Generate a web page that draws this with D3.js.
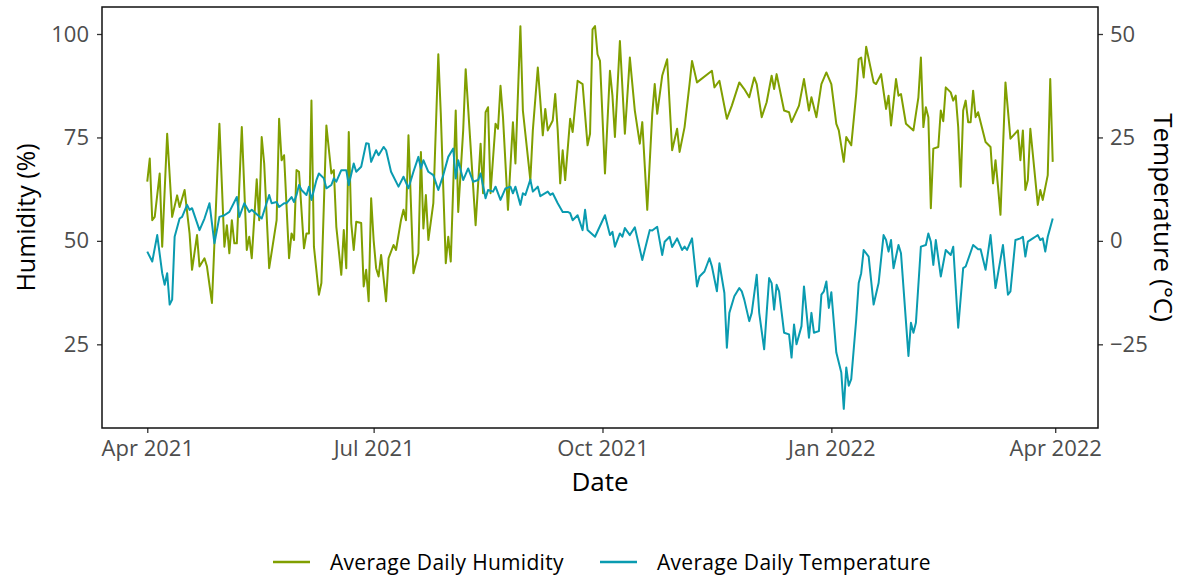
<!DOCTYPE html>
<html>
<head>
<meta charset="utf-8">
<script src="https://cdn.jsdelivr.net/npm/d3@7"></script>
<style>
  body { margin: 0; background: #fff; }
  text { font-family: "Open Sans", "Noto Sans", sans-serif; }
</style>
</head>
<body>
<div id="chart"></div>
<script>
// days since 2021-04-01
const humidityDay = [0,1,2,3,5,6,8,10,12,13,15,17,18,20,21,23,24,26,29,31,32,33,34,35,36,38,40,41,42,44,45,46,47,49,52,53,54,55,57,58,59,60,61,63,64,65,66,67,69,70,72,74,75,76,78,79,80,81,82,83,84,86,87,88,89,90,91,92,93,94,96,97,99,100,102,103,104,105,107,109,110,111,112,113,115,117,118,120,121,122,124,125,127,128,132,134,135,136,137,138,140,141,142,143,145,147,148,150,151,154,155,157,158,159,160,161,163,164,165,166,167,168,170,171,173,175,177,178,179,180,181,182,184,186,187,188,190,192,194,196,198,199,201,203,204,205,207,209,211,213,214,216,218,219,221,227,228,230,233,235,238,240,242,244,245,247,249,251,252,253,256,258,259,262,264,266,267,269,271,273,275,277,278,280,281,283,285,286,287,288,289,292,293,295,297,298,299,301,302,303,305,308,310,311,312,313,314,315,316,318,319,320,321,323,324,325,326,327,328,329,330,331,332,333,334,337,339,340,341,342,343,345,347,350,351,352,353,354,355,358,359,360,362,363,364]
const humidityPct = [64.3,69.9,55.0,55.8,66.3,48.6,75.9,55.8,61.0,58.2,62.3,51.8,43.0,51.4,43.8,45.8,43.8,35.0,78.3,48.6,53.8,47.0,55.0,49.4,49.4,77.5,47.8,51.0,45.8,64.9,55.0,75.1,68.7,43.4,55.0,79.5,69.5,70.7,45.8,51.8,50.2,67.1,66.7,48.2,51.8,51.8,83.9,48.6,37.0,39.8,77.9,66.3,67.1,53.4,41.8,52.6,43.4,76.3,54.3,47.8,54.6,54.3,39.0,43.0,35.4,60.3,50.2,43.4,41.4,46.6,35.4,45.8,49.0,47.8,55.0,57.5,55.0,75.5,42.2,47.0,71.5,53.0,61.1,50.2,59.1,95.1,80.7,44.6,51.0,45.0,81.5,57.0,76.7,91.5,53.8,73.5,61.5,81.1,82.3,61.5,78.3,77.1,87.5,79.9,57.5,78.7,68.7,101.9,81.5,64.7,76.7,91.9,83.9,75.5,81.9,76.7,79.1,85.5,76.7,63.9,71.9,64.7,79.5,76.3,88.7,87.9,73.1,75.9,101.1,101.9,95.1,93.5,66.3,91.1,85.1,75.1,98.3,75.9,94.3,81.5,73.5,78.7,57.5,80.7,87.9,80.7,89.9,93.9,71.9,77.1,71.5,77.5,87.9,93.5,88.3,91.1,87.1,88.7,79.5,82.7,88.3,86.7,84.7,89.5,87.9,79.9,83.5,89.9,86.7,90.3,81.5,81.1,78.7,82.7,89.1,81.5,84.7,79.9,87.9,90.7,87.9,78.3,76.7,69.1,75.1,73.1,85.5,93.9,94.3,89.5,96.9,88.3,87.9,90.3,81.9,85.1,77.9,89.1,85.1,85.5,78.3,76.7,84.7,94.3,77.5,82.3,79.9,57.9,72.3,72.7,81.5,78.9,87.1,85.9,83.9,85.1,77.5,63.1,81.5,83.9,78.7,78.7,86.3,79.9,81.1,73.9,72.7,63.9,69.5,63.1,56.3,88.3,74.7,76.7,69.5,76.7,62.3,64.7,77.1,58.7,62.3,59.9,65.9,89.1,69.1]

const temperatureDay = [0,2,4,6,7,8,9,10,11,13,14,16,17,18,21,23,25,27,29,31,33,36,37,39,41,42,46,49,50,52,53,55,56,58,59,60,61,62,64,65,66,68,69,71,72,74,75,76,78,80,81,83,84,86,88,89,90,92,93,95,96,98,101,103,105,107,109,110,111,113,115,117,119,121,123,124,125,127,129,131,133,134,136,137,139,140,142,144,146,147,148,150,151,152,154,155,157,158,161,162,163,165,167,169,170,171,173,175,176,177,180,184,186,187,188,190,191,192,194,196,199,201,202,203,205,207,208,210,211,213,215,216,217,219,221,222,224,226,227,229,230,232,233,234,236,238,239,240,242,243,245,246,248,249,250,251,252,253,254,256,258,259,260,261,263,264,266,267,268,270,271,272,273,274,275,277,279,280,281,282,283,285,286,287,288,290,292,294,296,297,298,299,300,302,303,306,307,308,309,311,313,314,315,316,317,319,320,321,323,324,326,328,329,332,334,335,337,339,341,344,346,347,349,351,352,353,354,356,357,358,359,360,361,362,364]
const temperatureC = [-2.6,-5.0,1.4,-7.8,-10.6,-7.8,-15.4,-14.2,1.0,5.4,5.8,8.7,7.5,7.9,2.6,5.4,9.1,-0.6,5.8,6.2,7.0,10.6,5.8,9.1,7.0,7.5,5.4,11.1,9.1,9.4,8.2,9.1,9.1,10.6,9.4,11.1,13.5,12.3,11.1,13.1,9.9,14.7,16.3,15.1,12.7,13.5,15.1,14.3,17.1,17.1,13.5,18.7,16.7,17.9,23.6,23.5,19.1,21.9,20.7,22.7,21.9,16.7,13.1,15.5,12.7,16.7,20.3,17.5,19.5,16.7,15.9,12.3,15.9,20.3,22.3,15.1,19.5,14.7,17.5,14.3,14.7,16.3,10.3,12.3,11.9,13.1,9.9,12.7,13.1,11.5,13.1,8.7,11.5,11.1,14.8,11.9,13.1,10.8,11.9,11.1,11.5,9.1,7.0,7.0,6.7,5.0,6.2,2.6,7.5,2.6,1.0,6.2,1.4,2.2,-1.4,1.8,1.0,3.1,1.4,3.3,-4.6,0.2,2.6,2.5,3.4,-3.4,-0.2,1.0,-1.5,0.6,-2.2,-1.4,-2.2,0.6,-11.0,-8.6,-7.4,-4.2,-6.2,-12.2,-5.4,-12.6,-25.8,-17.4,-13.4,-11.4,-12.2,-14.2,-19.4,-17.4,-8.2,-17.4,-26.2,-17.4,-9.0,-10.2,-16.6,-10.6,-12.2,-22.2,-22.6,-28.2,-20.2,-25.0,-20.6,-11.0,-23.4,-17.4,-22.2,-21.8,-13.0,-12.2,-9.8,-16.2,-12.4,-27.0,-31.8,-40.6,-30.6,-35.0,-33.4,-19.0,-10.2,-7.8,-2.2,-3.8,-15.4,-10.2,1.4,0.2,-2.6,0.2,-6.6,-1.0,-3.0,-27.8,-19.8,-22.2,-19.8,-1.4,-1.0,1.8,-0.2,-5.8,0.2,-8.6,-5.4,-2.2,-3.4,-1.4,-21.0,-6.6,-6.2,-1.0,-2.0,-2.0,-7.0,1.4,-11.4,-1.0,-13.0,-12.2,0.2,0.6,1.0,-3.8,-0.2,0.6,1.0,1.4,0.2,0.6,-2.6,1.0,5.4]

const seriesNames = ["Average Daily Humidity", "Average Daily Temperature"]
const seriesColors = ["#809f00", "#0a9bb0"]
const humidityTicks = [25, 50, 75, 100]
const temperatureTicks = [-25, 0, 25, 50]
const dateTicks = ["2021-04-01", "2021-07-01", "2021-10-01", "2022-01-01", "2022-04-01"]

const width = 1184, height = 577
const margin = { top: 7, right: 86, bottom: 149, left: 102 }
const pw = width - margin.left - margin.right
const ph = height - margin.top - margin.bottom
// secondary axis is humidity - 50
const offset = 50

const start = new Date(2021, 3, 1)
const hum = humidityDay.map((d, i) => ({ date: d3.timeDay.offset(start, d), v: humidityPct[i] }))
const temp = temperatureDay.map((d, i) => ({ date: d3.timeDay.offset(start, d), v: temperatureC[i] + offset }))

var svg = d3.select("#chart").append("svg")
  .attr("width", width)
  .attr("height", height)

const g = svg.append("g")
  .attr("transform", "translate(" + margin.left + "," + margin.top + ")")

// ggplot style 5% expansion
const xExt = d3.extent(hum.concat(temp), d => d.date)
const xPad = (xExt[1] - xExt[0]) * 0.05
const x = d3.scaleTime()
  .domain([new Date(+xExt[0] - xPad), new Date(+xExt[1] + xPad)])
  .range([0, pw])

const yExt = d3.extent(hum.concat(temp), d => d.v)
const yPad = (yExt[1] - yExt[0]) * 0.05
const y = d3.scaleLinear()
  .domain([yExt[0] - yPad, yExt[1] + yPad])
  .range([ph, 0])
const y2 = d3.scaleLinear()
  .domain(y.domain().map(v => v - offset))
  .range([ph, 0])

const tickCol = "#333", labCol = "#4d4d4d"

function styleAxis(sel) {
  sel.select(".domain").remove()
  sel.selectAll(".tick line").attr("stroke", tickCol).attr("stroke-width", 1.3)
  sel.selectAll(".tick text").attr("fill", labCol).style("font-size", "22px")
}

g.append("g")
  .call(d3.axisLeft(y).tickValues(humidityTicks).tickSize(5).tickPadding(8))
  .call(styleAxis)

g.append("g")
  .attr("transform", "translate(" + pw + ",0)")
  .call(d3.axisRight(y2).tickValues(temperatureTicks).tickSize(5).tickPadding(7))
  .call(styleAxis)

g.append("g")
  .attr("transform", "translate(0," + ph + ")")
  .call(d3.axisBottom(x).tickValues(dateTicks.map(s => d3.timeParse("%Y-%m-%d")(s)))
    .tickFormat(d3.timeFormat("%b %Y")).tickSize(5).tickPadding(7))
  .call(styleAxis)

const line = d3.line()
  .x(d => x(d.date))
  .y(d => y(d.v))

g.append("path")
  .datum(hum)
  .attr("fill", "none")
  .attr("stroke", seriesColors[0])
  .attr("stroke-width", 2)
  .attr("stroke-linejoin", "round")
  .attr("d", line)

g.append("path")
  .datum(temp)
  .attr("fill", "none")
  .attr("stroke", seriesColors[1])
  .attr("stroke-width", 2)
  .attr("stroke-linejoin", "round")
  .attr("d", line)

// panel border
g.append("rect")
  .attr("width", pw)
  .attr("height", ph)
  .attr("fill", "none")
  .attr("stroke", "#111")
  .attr("stroke-width", 1.5)

// axis titles
svg.append("text")
  .attr("transform", "translate(25," + (margin.top + ph / 2) + ") rotate(-90)")
  .attr("text-anchor", "middle")
  .attr("dominant-baseline", "central")
  .style("font-size", "25px")
  .text("Humidity (%)")

svg.append("text")
  .attr("transform", "translate(1164," + (margin.top + ph / 2) + ") rotate(90)")
  .attr("text-anchor", "middle")
  .attr("dominant-baseline", "central")
  .style("font-size", "26px")
  .text("Temperature (°C)")

svg.append("text")
  .attr("x", margin.left + pw / 2)
  .attr("y", 491)
  .attr("text-anchor", "middle")
  .style("font-size", "26px")
  .text("Date")

// legend
const legend = svg.append("g").attr("transform", "translate(0,562)")
const legX = [273, 600]
seriesNames.forEach((name, i) => {
  const lg = legend.append("g").attr("transform", "translate(" + legX[i] + ",0)")
  lg.append("line")
    .attr("x1", 0).attr("x2", 37)
    .attr("stroke", seriesColors[i])
    .attr("stroke-width", 2.5)
  lg.append("text")
    .attr("x", 57)
    .attr("dominant-baseline", "central")
    .style("font-size", "21px")
    .style("letter-spacing", "0.3px")
    .text(name)
})
</script>
</body>
</html>
